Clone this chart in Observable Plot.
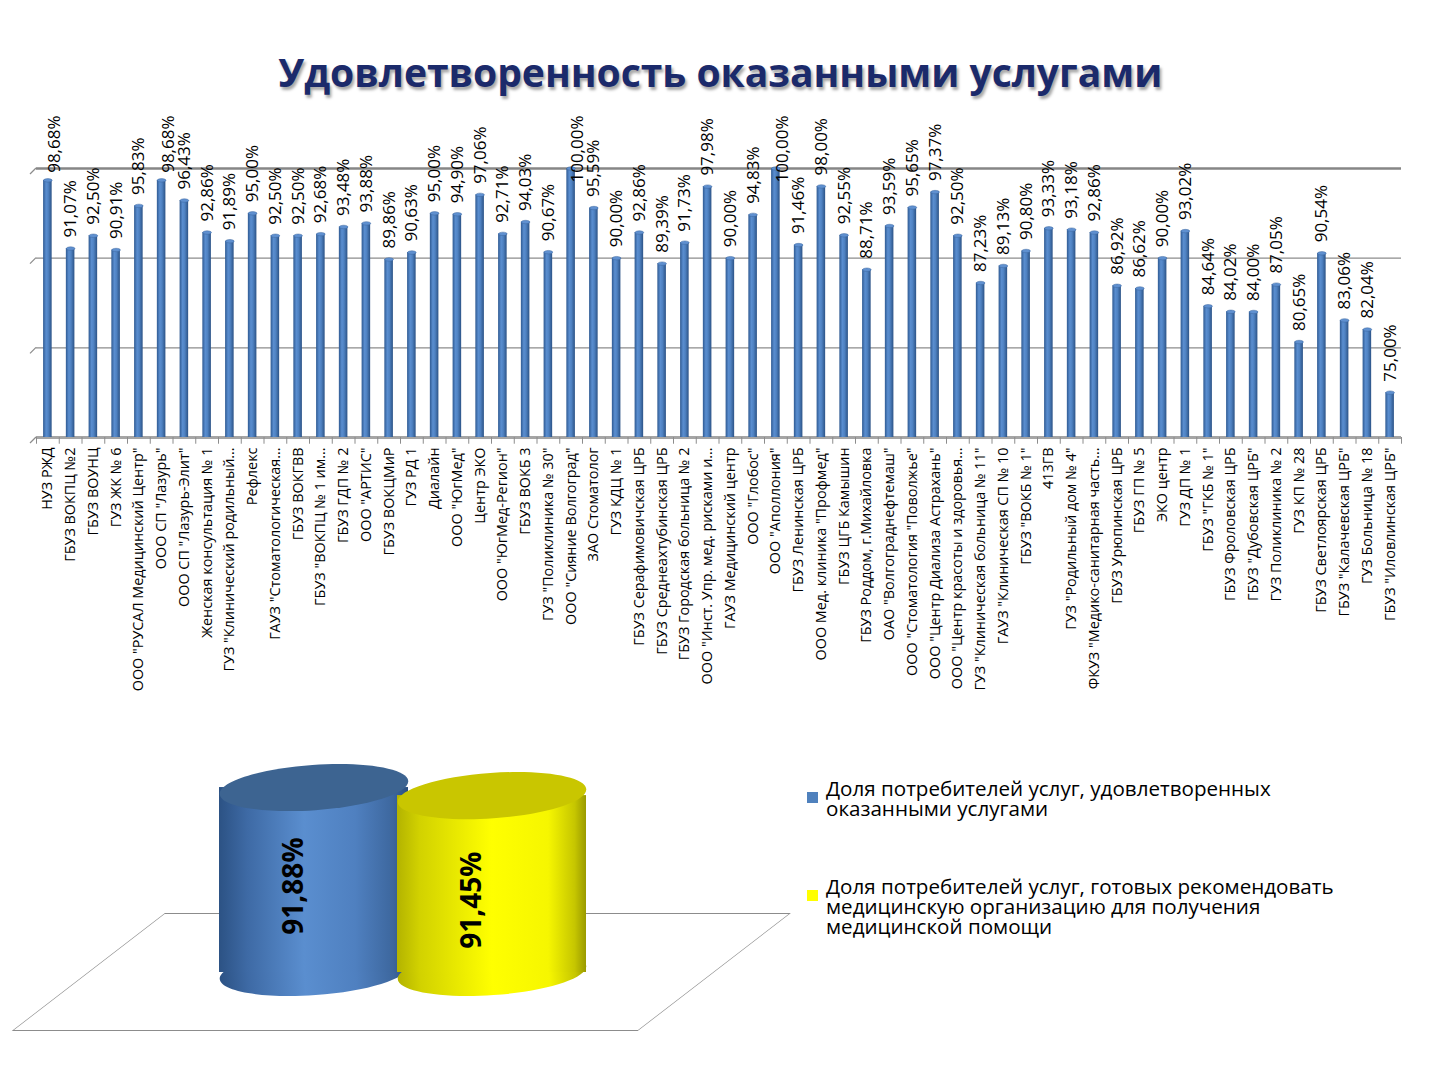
<!DOCTYPE html>
<html><head><meta charset="utf-8">
<script src="https://cdn.jsdelivr.net/npm/d3@7"></script>
<script src="https://cdn.jsdelivr.net/npm/@observablehq/plot@0.6"></script>
<style>
body{margin:0;background:#fff;font-family:"Open Sans",sans-serif;}
#page{position:relative;width:1440px;height:1080px;overflow:hidden;background:#fff;}
#title{position:absolute;left:0;top:46px;width:1440px;text-align:center;}
#title span{display:inline-block;font-weight:700;font-size:40px;line-height:52px;color:#1b2a6b;text-shadow:2px 3px 3px rgba(0,0,0,0.35);white-space:nowrap;transform-origin:center;}
.abs{position:absolute;}
.leg{position:absolute;left:826px;font-size:20.6px;line-height:20px;color:#000;white-space:pre-line;font-family:"Open Sans",sans-serif;}
.sw{position:absolute;left:807px;width:11px;height:11px;}
</style></head><body>
<div id="page">
  <div id="title"><span id="titleText">Удовлетворенность оказанными услугами</span></div>
  <div id="topChart" class="abs" style="left:0;top:100px;"></div>
  <div id="floor" class="abs" style="left:13px;top:913px;width:625px;height:117px;transform-origin:0 117px;transform:skewX(-52.4deg);"></div>
  <div id="cyl" class="abs" style="left:0;top:740px;"></div>
  <div id="legend"></div>
</div>
<script>
const categories = [
  'НУЗ РЖД', 'ГБУЗ ВОКПЦ №2', 'ГБУЗ ВОУНЦ', 'ГУЗ ЖК № 6', 'ООО "РУСАЛ Медицинский Центр"',
  'ООО СП "Лазурь"', 'ООО СП "Лазурь-Элит"', 'Женская консультация № 1', 'ГУЗ "Клинический родильный…', 'Рефлекс',
  'ГАУЗ "Стоматологическая…', 'ГБУЗ ВОКГВВ', 'ГБУЗ "ВОКПЦ № 1 им…', 'ГБУЗ ГДП № 2', 'ООО "АРТИС"',
  'ГБУЗ ВОКЦМиР', 'ГУЗ РД 1', 'Диалайн', 'ООО "ЮгМед"', 'Центр ЭКО',
  'ООО "ЮгМед-Регион"', 'ГБУЗ ВОКБ 3', 'ГУЗ "Поликлиника № 30"', 'ООО "Сияние Волгоград"', 'ЗАО Стоматолог',
  'ГУЗ КДЦ № 1', 'ГБУЗ Серафимовичская ЦРБ', 'ГБУЗ Среднеахтубинская ЦРБ', 'ГБУЗ Городская больница № 2', 'ООО "Инст. Упр. мед. рисками и…',
  'ГАУЗ Медицинский центр', 'ООО "Глобос"', 'ООО "Аполлония"', 'ГБУЗ Ленинская ЦРБ', 'ООО Мед. клиника "Профмед"',
  'ГБУЗ ЦГБ Камышин', 'ГБУЗ Роддом, г.Михайловка', 'ОАО "Волгограднефтемаш"', 'ООО "Стоматология "Поволжье"', 'ООО "Центр Диализа Астрахань"',
  'ООО "Центр красоты и здоровья…', 'ГУЗ "Клиническая больница № 11"', 'ГАУЗ "Клиническая СП № 10', 'ГБУЗ "ВОКБ № 1"', '413ГВ',
  'ГУЗ "Родильный дом № 4"', 'ФКУЗ "Медико-санитарная часть…', 'ГБУЗ Урюпинская ЦРБ', 'ГБУЗ ГП № 5', 'ЭКО центр',
  'ГУЗ ДП № 1', 'ГБУЗ "ГКБ № 1"', 'ГБУЗ Фроловская ЦРБ', 'ГБУЗ "Дубовская ЦРБ"', 'ГУЗ Поликлиника № 2',
  'ГУЗ КП № 28', 'ГБУЗ Светлоярская ЦРБ', 'ГБУЗ "Калачевская ЦРБ"', 'ГУЗ Больница № 18', 'ГБУЗ "Иловлинская ЦРБ"'
];
const values = [
  98.68, 91.07, 92.50, 90.91, 95.83,
  98.68, 96.43, 92.86, 91.89, 95.00,
  92.50, 92.50, 92.68, 93.48, 93.88,
  89.86, 90.63, 95.00, 94.90, 97.06,
  92.71, 94.03, 90.67, 100.00, 95.59,
  90.00, 92.86, 89.39, 91.73, 97.98,
  90.00, 94.83, 100.00, 91.46, 98.00,
  92.55, 88.71, 93.59, 95.65, 97.37,
  92.50, 87.23, 89.13, 90.80, 93.33,
  93.18, 92.86, 86.92, 86.62, 90.00,
  93.02, 84.64, 84.02, 84.00, 87.05,
  80.65, 90.54, 83.06, 82.04, 75.00
];
const yDomain = [70, 100];
const yGrid = [80, 90];
const yTop = [100];
const yAxisTicks = [70, 80, 90, 100];
const summaryKeys = ["s0", "s1"];
const summaryLabels = [
  "Доля потребителей услуг, удовлетворенных\nоказанными услугами",
  "Доля потребителей услуг, готовых рекомендовать\nмедицинскую организацию для получения\nмедицинской помощи"
];
const summaryValues = [91.88, 91.45];
const summaryDomain = [82, 92];
const summaryColors = ["#4f81bd", "#ffff00"];

const fmt = v => v.toFixed(2).replace(".", ",") + "%";

function makeEllipse(ratio) {
  return {
    draw(ctx, size) {
      const rx = Math.sqrt(size / Math.PI), ry = rx * ratio, k = 0.5522847498;
      ctx.moveTo(rx, 0);
      ctx.bezierCurveTo(rx, k * ry, k * rx, ry, 0, ry);
      ctx.bezierCurveTo(-k * rx, ry, -rx, k * ry, -rx, 0);
      ctx.bezierCurveTo(-rx, -k * ry, -k * rx, -ry, 0, -ry);
      ctx.bezierCurveTo(k * rx, -ry, rx, -k * ry, rx, 0);
      ctx.closePath();
    }
  };
}

// ---------- top bar chart ----------
const data = categories.map((c, i) => ({name: c, value: values[i]}));
const step = (1440 - 36 - 39) / categories.length;
const clampAt = 98.5; // labels of the tallest bars are pushed down under the chart's top edge
const topPlot = Plot.plot({
  width: 1440, height: 600,
  marginLeft: 36, marginRight: 39, marginTop: 68, marginBottom: 263,
  x: {domain: categories, padding: 0, round: false, tickRotate: -90, tickSize: 0, tickPadding: 10, label: null},
  y: {domain: yDomain, axis: null},
  style: {fontFamily: "Open Sans", fontSize: "14.4px", color: "#000", background: "transparent", overflow: "visible"},
  marks: [
    Plot.ruleY(yGrid, {stroke: "#8c8c8c", strokeWidth: 1.2}),
    Plot.ruleY(yTop, {stroke: "#868686", strokeWidth: 2.6}),
    Plot.ruleY([yDomain[0]], {stroke: "#a5a5a5", strokeWidth: 3}),
    Plot.ruleX(categories, {x: d => d, y1: yDomain[0], y2: yDomain[0] - 0.75, dx: step / 2, stroke: "#8c8c8c"}),
    Plot.ruleX(categories.slice(0, 1), {x: d => d, y1: yDomain[0], y2: yDomain[0] - 0.75, dx: -step / 2, stroke: "#8c8c8c"}),
    Plot.barY(data, {x: "name", y1: yDomain[0], y2: "value", fill: "url(#barGrad)", insetLeft: 7.1, insetRight: 7.1}),
    Plot.dot(data, {x: "name", y: "value", r: 4.3, symbol: makeEllipse(0.4), fill: "#5f90d0", stroke: "#3d679f", strokeWidth: 0.5}),
    Plot.text(data.filter(d => d.value < clampAt), {x: "name", y: "value", text: d => fmt(d.value), rotate: -90, textAnchor: "start", dy: -11, fontSize: 17, fill: "#000"}),
    Plot.text(data.filter(d => d.value >= clampAt), {x: "name", frameAnchor: "top", text: d => fmt(d.value), rotate: -90, textAnchor: "end", dy: -53, fontSize: 17, fill: "#000"})
  ]
});
const topSvg = d3.select(topPlot);
topSvg.insert("defs", ":first-child").html(`
  <linearGradient id="barGrad" x1="0" x2="1" y1="0" y2="0">
    <stop offset="0" stop-color="#2f5a92"/>
    <stop offset="0.35" stop-color="#5a8ed0"/>
    <stop offset="0.6" stop-color="#4f82c2"/>
    <stop offset="1" stop-color="#2c5386"/>
  </linearGradient>`);
// 3D-style diagonal ticks at the left end of each gridline, positioned by the plot's own y scale
const ys = topPlot.scale("y");
topSvg.append("g").attr("stroke", "#8c8c8c").attr("stroke-width", 1.2)
  .selectAll("line").data(yAxisTicks).join("line")
  .attr("x1", 30).attr("x2", 36)
  .attr("y1", d => ys.apply(d) + 6).attr("y2", d => ys.apply(d));
document.getElementById("topChart").appendChild(topPlot);

// ---------- floor ----------
const floorPlot = Plot.plot({
  width: 625, height: 117, margin: 0,
  x: {domain: [0, 1], axis: null}, y: {domain: [0, 1], axis: null},
  style: {background: "transparent", overflow: "visible"},
  marks: [Plot.frame({stroke: "#8c8c8c", strokeWidth: 1})]
});
document.getElementById("floor").appendChild(floorPlot);

// ---------- cylinders ----------
const summary = summaryKeys.map((k, i) => ({key: k, value: summaryValues[i]}));
const topFill = ["#3d6491", "#c9c600"];
const labelDy = [6, 16];
const cylMarks = [];
summary.forEach((s, i) => {
  cylMarks.push(
    Plot.dot([s], {x: "key", y: summaryDomain[0], r: 94.5, symbol: makeEllipse(0.24), rotate: -4, fill: `url(#cyl${i})`}),
    Plot.barY([s], {x: "key", y1: summaryDomain[0], y2: "value", fill: `url(#cyl${i})`, insetLeft: -5.5, insetRight: -5.5}),
    Plot.dot([s], {x: "key", y: "value", r: 94.5, symbol: makeEllipse(0.24), rotate: -4, fill: topFill[i]}),
    Plot.text([s], {x: "key", y: d => (d.value + summaryDomain[0]) / 2, text: d => fmt(d.value), rotate: -90, fontSize: 28, fontWeight: 700, fill: "#000", dx: -20, dy: labelDy[i]})
  );
});
const cylPlot = Plot.plot({
  width: 800, height: 300,
  marginLeft: 224.5, marginRight: 219.5, marginTop: 44.8, marginBottom: 68,
  x: {domain: summaryKeys, padding: 0, round: false, axis: null},
  y: {domain: summaryDomain, axis: null},
  style: {fontFamily: "Open Sans", background: "transparent", overflow: "visible"},
  marks: cylMarks
});
d3.select(cylPlot).insert("defs", ":first-child").html(`
  <linearGradient id="cyl0" x1="0" x2="1" y1="0" y2="0">
    <stop offset="0" stop-color="#2c5284"/>
    <stop offset="0.15" stop-color="#3e6aa5"/>
    <stop offset="0.45" stop-color="#5a8ecf"/>
    <stop offset="0.72" stop-color="#4f80c0"/>
    <stop offset="0.92" stop-color="#3d679e"/>
    <stop offset="1" stop-color="#2b4f80"/>
  </linearGradient>
  <linearGradient id="cyl1" x1="0" x2="1" y1="0" y2="0">
    <stop offset="0" stop-color="#b3b300"/>
    <stop offset="0.12" stop-color="#d2d200"/>
    <stop offset="0.5" stop-color="#ffff00"/>
    <stop offset="0.8" stop-color="#f6f600"/>
    <stop offset="0.94" stop-color="#c6c600"/>
    <stop offset="1" stop-color="#9a9a00"/>
  </linearGradient>`);
document.getElementById("cyl").appendChild(cylPlot);

// ---------- legend ----------
const legend = document.getElementById("legend");
const legTops = [778, 876];
summaryLabels.forEach((t, i) => {
  const sw = document.createElement("div");
  sw.className = "sw";
  sw.style.top = (legTops[i] + 14) + "px";
  sw.style.background = summaryColors[i];
  legend.appendChild(sw);
  const tx = document.createElement("div");
  tx.className = "leg";
  tx.style.top = legTops[i] + "px";
  tx.textContent = t;
  legend.appendChild(tx);
});

// ---------- title fit ----------
function fitTitle() {
  const el = document.getElementById("titleText");
  el.style.transform = "none";
  const w = el.getBoundingClientRect().width;
  el.style.transform = `scaleX(${884 / w})`;
}
fitTitle();
if (document.fonts && document.fonts.ready) document.fonts.ready.then(fitTitle);
</script>
</body></html>
